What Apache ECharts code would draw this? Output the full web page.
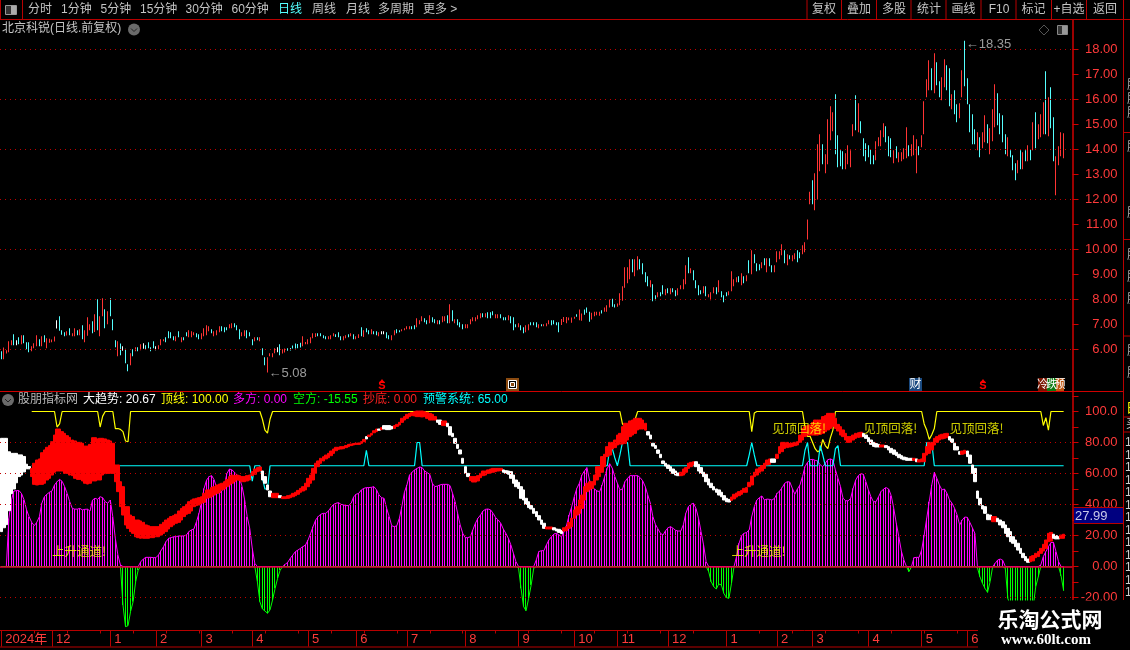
<!DOCTYPE html>
<html><head><meta charset="utf-8">
<script src="https://cdn.jsdelivr.net/npm/echarts@6/dist/echarts.min.js"></script>
<style>html,body{margin:0;padding:0;background:#000}#c{width:1130px;height:650px}</style></head>
<body><div id="c"></div>
<script>
const candleRows=[
[5.61,5.93,'c'],[5.61,6.08,'r'],[5.84,5.97,'r'],[5.89,6.33,'r'],[6.17,6.37,'r'],[6.17,6.61,'c'],[6.17,6.37,'w'],[6.21,6.49,'c'],[6.21,6.57,'r'],[6.25,6.57,'c'],
[6.01,6.29,'c'],[5.89,6.29,'c'],[5.93,6.13,'r'],[6.05,6.25,'r'],[6.13,6.57,'r'],[6.13,6.41,'c'],[6.13,6.53,'r'],[6.29,6.57,'c'],[6.05,6.45,'r'],[6.27,6.43,'r'],
[6.29,6.40,'r'],[6.32,6.52,'r'],[6.84,7.17,'w'],[6.75,7.33,'c'],[6.59,6.77,'c'],[6.53,6.69,'c'],[6.56,6.73,'r'],[6.57,6.85,'c'],[6.53,6.65,'r'],[6.53,6.85,'r'],
[6.57,6.77,'c'],[6.57,6.81,'r'],[6.41,6.97,'c'],[6.29,6.77,'r'],[6.55,7.29,'r'],[6.77,7.01,'r'],[6.65,7.13,'c'],[6.70,7.41,'r'],[6.77,8.01,'c'],[6.53,7.33,'r'],
[7.33,8.05,'r'],[6.85,7.61,'c'],[7.01,7.53,'r'],[7.33,8.05,'c'],[6.77,7.21,'c'],[6.09,6.37,'c'],[5.73,6.33,'r'],[5.77,6.24,'c'],[5.95,6.13,'w'],[5.45,6.03,'c'],
[5.13,5.41,'c'],[5.37,5.85,'r'],[5.73,6.01,'c'],[5.93,6.09,'r'],[5.93,6.09,'c'],[5.97,6.21,'r'],[6.03,6.25,'w'],[6.01,6.17,'c'],[6.05,6.29,'c'],[5.93,6.09,'c'],
[6.05,6.33,'c'],[5.97,6.13,'w'],[6.01,6.17,'r'],[6.17,6.41,'r'],[6.33,6.41,'r'],[6.29,6.49,'c'],[6.45,6.73,'c'],[6.45,6.69,'c'],[6.37,6.53,'c'],[6.33,6.53,'r'],
[6.49,6.73,'c'],[6.29,6.49,'r'],[6.37,6.49,'c'],[6.53,6.69,'c'],[6.49,6.77,'r'],[6.49,6.73,'r'],[6.57,6.69,'r'],[6.49,6.65,'c'],[6.41,6.61,'c'],[6.41,6.65,'r'],
[6.53,6.85,'r'],[6.57,6.97,'r'],[6.73,6.93,'r'],[6.65,6.81,'c'],[6.53,6.73,'r'],[6.57,6.77,'r'],[6.69,6.93,'r'],[6.73,6.93,'c'],[6.69,6.89,'c'],[6.77,6.89,'c'],
[6.85,7.01,'r'],[6.85,7.05,'r'],[6.89,7.05,'c'],[6.77,6.97,'c'],[6.41,6.81,'c'],[6.53,6.69,'r'],[6.53,6.77,'r'],[6.45,6.77,'c'],[6.53,6.69,'c'],[6.17,6.41,'c'],
[6.33,6.49,'r'],[6.37,6.49,'c'],[6.33,6.49,'r'],[5.77,6.05,'c'],[5.37,5.69,'c'],[5.08,5.69,'r'],[5.73,5.85,'r'],[5.69,5.85,'r'],[5.85,6.05,'r'],[5.89,6.09,'w'],
[5.77,6.21,'c'],[5.84,6.01,'r'],[5.88,6.04,'r'],[5.95,6.05,'c'],[5.96,6.06,'c'],[6.04,6.16,'c'],[6.04,6.24,'c'],[6.05,6.22,'c'],[6.08,6.27,'c'],
[6.13,6.53,'r'],[6.21,6.30,'r'],[6.21,6.41,'r'],[6.25,6.49,'r'],[6.45,6.65,'r'],[6.50,6.65,'r'],[6.53,6.65,'c'],[6.53,6.65,'c'],[6.45,6.57,'c'],[6.41,6.53,'c'],
[6.41,6.53,'r'],[6.41,6.57,'r'],[6.53,6.65,'r'],[6.50,6.61,'c'],[6.49,6.69,'c'],[6.37,6.53,'c'],[6.37,6.53,'r'],[6.45,6.57,'r'],[6.49,6.61,'c'],[6.53,6.65,'r'],
[6.41,6.61,'c'],[6.41,6.53,'r'],[6.46,6.61,'r'],[6.53,6.89,'c'],[6.50,6.77,'r'],[6.69,6.85,'c'],[6.61,6.77,'c'],[6.61,6.81,'r'],[6.61,6.73,'c'],[6.57,6.73,'c'],
[6.53,6.69,'r'],[6.61,6.73,'w'],[6.61,6.73,'w'],[6.45,6.69,'c'],[6.41,6.57,'c'],[6.37,6.57,'r'],[6.57,6.77,'r'],[6.65,6.81,'c'],[6.69,6.77,'c'],[6.73,6.81,'r'],
[6.77,6.85,'r'],[6.81,6.93,'r'],[6.81,6.93,'r'],[6.81,6.93,'c'],[6.81,6.97,'c'],[6.89,7.25,'r'],[7.01,7.17,'r'],[7.13,7.33,'r'],[7.09,7.25,'c'],[7.01,7.17,'c'],
[7.05,7.37,'r'],[7.09,7.29,'c'],[7.05,7.21,'c'],[7.01,7.17,'r'],[7.01,7.17,'c'],[7.09,7.33,'r'],[7.13,7.33,'r'],[7.05,7.37,'c'],[7.05,7.81,'r'],[7.13,7.57,'c'],
[7.05,7.21,'r'],[6.97,7.21,'c'],[6.89,7.09,'c'],[6.81,7.01,'c'],[6.85,7.01,'r'],[6.85,7.01,'r'],[7.01,7.21,'r'],[7.13,7.29,'r'],[7.13,7.29,'r'],[7.21,7.37,'r'],
[7.25,7.45,'r'],[7.29,7.45,'c'],[7.29,7.45,'r'],[7.25,7.49,'c'],[7.25,7.49,'c'],[7.37,7.53,'c'],[7.25,7.41,'r'],[7.25,7.41,'r'],[7.25,7.41,'c'],[7.17,7.29,'c'],
[7.17,7.29,'c'],[7.17,7.37,'r'],[7.05,7.33,'c'],[6.77,7.29,'c'],[6.89,7.01,'c'],[6.89,7.05,'r'],[6.77,6.97,'c'],[6.65,6.89,'c'],[6.69,6.97,'r'],[6.77,7.01,'r'],
[6.97,7.09,'c'],[6.97,7.09,'c'],[6.89,7.09,'c'],[6.85,7.01,'r'],[6.93,7.01,'c'],[6.93,7.01,'r'],[6.93,7.05,'r'],[7.01,7.17,'r'],[6.97,7.17,'c'],[7.01,7.17,'c'],
[6.97,7.09,'c'],[6.69,7.09,'c'],
[6.98,7.22,'r'],[7.10,7.30,'r'],[7.05,7.30,'r'],[7.17,7.28,'r'],[7.07,7.28,'r'],[7.23,7.31,'r'],[7.31,7.41,'c'],[7.17,7.60,'r'],[7.15,7.44,'r'],[7.39,7.60,'c'],
[7.47,7.68,'c'],[7.11,7.51,'c'],[7.20,7.47,'r'],[7.33,7.51,'r'],[7.37,7.51,'r'],[7.35,7.51,'r'],[7.44,7.57,'c'],[7.51,7.68,'r'],[7.51,7.77,'r'],[7.68,8.00,'r'],
[7.71,8.03,'c'],[7.68,7.81,'c'],[7.71,7.84,'r'],[7.77,8.25,'r'],[7.95,8.53,'r'],
[8.47,9.29,'r'],[8.65,9.29,'r'],[8.81,9.61,'r'],[9.09,9.61,'c'],[8.93,9.61,'r'],[9.17,9.73,'r'],[9.21,9.61,'c'],[9.01,9.45,'c'],[8.69,9.09,'c'],[8.53,8.93,'c'],
[8.49,8.77,'r'],[7.93,8.61,'c'],[7.97,8.17,'c'],[8.09,8.29,'r'],[8.13,8.29,'c'],[8.21,8.57,'c'],[8.17,8.41,'r'],[8.25,8.45,'c'],[8.21,8.45,'r'],[8.29,8.45,'c'],
[8.13,8.37,'c'],[8.17,8.45,'r'],[8.41,8.57,'r'],[8.41,8.81,'r'],[8.61,9.37,'r'],[9.05,9.69,'c'],[9.05,9.25,'r'],[8.77,9.17,'c'],[8.45,8.77,'c'],[8.17,8.57,'c'],
[8.21,8.37,'c'],[8.25,8.53,'r'],[8.13,8.53,'c'],[8.09,8.21,'r'],[7.97,8.29,'r'],[8.25,8.49,'r'],[8.21,8.49,'c'],[8.29,8.77,'r'],[8.09,8.33,'c'],[7.89,8.17,'c'],
[8.13,8.29,'c'],[8.17,8.33,'r'],[8.33,9.13,'r'],[8.53,8.81,'r'],[8.69,8.89,'r'],[8.69,8.93,'c'],[8.57,9.05,'r'],[8.65,8.93,'c'],[8.73,8.97,'r'],[9.05,9.57,'c'],
[9.01,9.97,'r'],[9.45,9.81,'c'],[9.13,9.45,'c'],[9.17,9.41,'c'],[9.25,9.49,'r'],[9.37,9.65,'c'],[9.09,9.65,'r'],[9.33,9.65,'c'],[9.09,9.37,'c'],[9.09,9.37,'r'],
[9.49,9.93,'r'],[9.61,9.93,'r'],[9.77,10.21,'r'],[9.45,9.97,'c'],[9.37,9.81,'r'],[9.61,9.77,'c'],[9.53,9.77,'r'],[9.61,9.85,'r'],[9.49,9.97,'c'],[9.65,9.89,'c'],
[9.81,10.17,'r'],[9.89,10.29,'r'],[10.40,11.20,'r'],
[11.81,12.31,'r'],[11.81,12.77,'c'],[11.57,13.05,'r'],[12.00,14.21,'r'],[13.13,14.61,'r'],[13.41,14.21,'c'],[13.05,13.81,'r'],[13.41,15.21,'r'],[14.37,15.73,'r'],[14.73,15.49,'r'],
[13.81,16.21,'c'],[13.29,14.57,'c'],[13.33,13.97,'c'],[13.21,13.93,'c'],[13.21,13.85,'r'],[13.41,14.17,'r'],[13.29,13.97,'r'],[14.53,15.01,'r'],[14.77,16.17,'c'],[14.69,15.85,'r'],
[14.65,15.13,'c'],[13.73,14.45,'c'],[13.53,14.25,'c'],[13.69,14.17,'c'],[13.41,14.01,'c'],[13.41,13.77,'c'],[13.57,14.33,'r'],[14.13,14.49,'r'],[14.13,14.77,'r'],[14.49,15.05,'r'],
[14.29,14.93,'c'],[13.73,14.53,'c'],[13.69,14.45,'c'],[13.45,13.97,'r'],[13.65,14.13,'c'],[13.49,13.89,'r'],[13.53,13.89,'r'],[13.61,14.05,'r'],[13.65,14.89,'r'],[13.73,14.17,'c'],
[13.73,14.21,'r'],[13.77,14.57,'r'],[13.05,14.41,'r'],[13.77,14.13,'c'],[14.09,14.57,'r'],[14.61,15.93,'r'],[16.09,16.81,'r'],[16.37,17.57,'r'],[16.37,17.25,'c'],[16.25,17.85,'r'],
[16.57,17.49,'c'],[16.09,16.73,'c'],[15.97,16.89,'r'],[16.49,17.61,'r'],[16.37,17.37,'c'],[15.73,17.25,'c'],[15.61,16.21,'r'],[15.41,16.37,'c'],[15.09,15.81,'c'],[15.25,15.85,'r'],
[16.09,17.17,'r'],[16.53,18.35,'c'],[15.81,16.85,'c'],[14.69,15.81,'c'],[14.21,15.41,'c'],[14.21,14.81,'c'],[13.97,14.69,'r'],[13.69,14.49,'c'],[14.05,14.69,'r'],[14.29,15.37,'r'],
[14.25,15.01,'c'],[13.81,14.85,'r'],[14.33,15.61,'r'],[14.89,16.61,'r'],[14.97,16.25,'c'],[14.61,15.45,'c'],[14.29,15.37,'c'],[13.81,14.61,'c'],[13.73,14.49,'r'],[13.69,13.97,'c'],
[13.17,13.77,'c'],[12.77,13.45,'c'],[13.05,13.57,'r'],[13.21,13.97,'c'],[13.21,13.89,'r'],[13.53,13.97,'c'],[13.53,14.17,'r'],[13.57,14.01,'c'],[13.97,15.09,'r'],[14.05,15.49,'c'],
[14.41,15.01,'r'],[14.49,15.41,'r'],[14.61,15.89,'r'],[14.61,17.13,'c'],[14.53,16.09,'r'],[14.85,16.49,'c'],[13.53,15.29,'c'],[12.17,13.73,'r'],[13.37,14.13,'r'],[13.73,14.69,'r'],[13.65,14.65,'r']
];
const histValues=[
0,0,0,31,43,48.7,49,49,47,43,36.5,32,28.5,26.3,28.5,32,40.8,45,46.6,47.9,48.7,52.6,54.7,56.2,55,51.5,47,41.8,37.5,37,37,37.5,36.5,36.9,37,35.8,
42.9,44,43.3,45,44.4,41.8,40.8,42.9,32,18,7.4,1,-24.8,-38.8,-38.2,-29,-22.7,-9.8,-2.3,3,4.8,5.9,5.9,5.9,5.7,5.7,7.4,10.2,12.8,16,18.2,18.6,19.2,19.2,19.7,19.7,19.7,20.3,22.5,23.6,24.2,28.9,34.3,41.8,50.4,55.8,58,58.6,55.8,50.4,47,48.7,52.6,60,62.9,62.3,60.8,59,56.9,51.5,42.9,32.1,24.6,11.7,2,-9.8,-22.7,-27.4,-28.7,-30.2,
-28,-21.6,-14.1,-7.6,-2.3,0,1.4,2.7,5.3,7.4,9.6,10.6,11.7,12.8,13.9,17.1,21.4,25.7,30,32.2,33.7,34.3,34.3,35.8,38,40,40.8,41.2,40.1,39.7,39.3,39.3,40.8,45,46.6,47.2,49.4,50.4,50.9,50.9,51.1,51.5,49.4,46.1,44.4,44,37.5,32.2,26.3,25.7,26.3,31.1,38.6,47.9,52.6,59,60.8,62.3,63.3,64.2,63.8,61.6,60.5,59.5,
53.7,51.5,51.9,52.6,53,53,53,52.2,47.2,41.8,34.3,26.8,21.4,18.6,18.6,19.2,23.6,27.9,31.1,33.2,35.8,36.9,37.1,36.5,34.3,31.5,30,27.9,24.2,21.4,18.2,13.9,8.5,3.1,-0.8,-14.1,-25.9,-28.5,-20.5,-11.9,-1.2,4.2,9.6,10.2,10.2,13.9,17.1,19.2,21,21.4,20.3,19.2,22.5,26.8,33.2,38.6,45,50.4,53.7,59,61.6,63.8,55.8,51.5,50,48.7,48.3,52.6,58,63.3,66.3,63.3,58,53.7,49.4,
50,54.7,56.9,58.6,58.6,58.6,58.6,57.3,55.2,51.5,46.1,40.8,32.2,27.2,24.2,21.4,20.3,23.1,25,25.7,24.6,23.3,22.9,22.9,26.8,34.3,38.6,40.1,40.8,37.5,31.1,22.5,13.9,3.1,-3.3,-9.8,-13,-14.5,-11.3,-11.9,-17.3,-20.1,-20.5,-10.9,-0.1,6.3,15,19.9,21.4,22,23.6,32.2,38.6,42.9,44.4,45.5,42.9,43.5,43.3,42.9,44,47.2,48.7,50.9,53.7,54.7,54.5,50.4,46.6,
50,52.6,58,64.4,67.2,68.9,69.1,68.5,68.1,65.5,64.4,66.6,68.9,69.4,68.7,62.3,56.9,51.5,44,42.5,42.3,44,50.4,55.8,58.6,59.9,59.5,54.7,49.4,45,41.8,41.8,45,48.3,50,50.9,50,45.7,37.5,27.9,19.2,10,4.2,-0.1,-3.3,-0.1,5.7,5.9,5.9,10.6,20.3,31.1,41.8,52.6,60.8,56.9,52.6,49.4,50,47.2,42.9,40.8,37.5,33.2,26.8,30,31.9,31.7,28.5,25,21.4,
-0.8,-6.6,-10.9,-14.1,-16.7,-9.8,-0.1,2,4.2,4.8,4,-1.2,-20.5,-26,-30,-33,-35,-36,-36,-34,-32,-30,-26,-13,-6.6,1,6.4,9.6,12.8,15.4,15.6,9.6,3.1,-6,-15.55
];
const bandRows=[
[22.5,82.7,'w'],[25,82.7,'w'],[27,82.7,'w'],[36,74,'w'],[47,73,'w'],[50,73,'w'],[54,73,'w'],[58,72,'w'],[59,72,'w'],[61,71,'w'],[63,66,'w'],[63,64.5,'w'],
[58,63.3,'r'],[53,66.6,'r'],[52.6,68.7,'r'],[53,69.4,'r'],[53,73.4,'r'],[53.7,75.2,'r'],[55.8,76.9,'r'],[56.9,78,'r'],[59,80.5,'r'],[60.8,84.8,'r'],[61.6,88.7,'r'],[61.6,88.7,'r'],[61.6,87,'r'],[60.1,85.9,'r'],[60.1,84.4,'r'],[59,83.3,'r'],[58.6,81.6,'r'],[56.9,81,'r'],[56.2,80.1,'r'],[56.2,80.1,'r'],[55.2,79.5,'r'],[53.7,77.7,'r'],[53.2,77.7,'r'],[53.7,78.8,'r'],
[55.2,83.1,'r'],[55.2,83.1,'r'],[55.8,82.3,'r'],[55.8,82.7,'r'],[59,82.7,'r'],[59.9,82.3,'r'],[60.1,81.6,'r'],[60.1,81,'r'],[60.1,79.5,'r'],[54.7,65.5,'r'],[48.3,65.5,'r'],[38.6,54.7,'r'],[33.2,51.5,'r'],[26.8,38.6,'r'],[24.6,38.6,'r'],[22.5,33.2,'r'],[21.4,32.2,'r'],[19.2,30,'r'],[18.6,30,'r'],[18.2,29.4,'r'],[18.2,28.5,'r'],[18.2,26.8,'r'],[18.2,26.3,'r'],[18.6,25.7,'r'],[18.6,25.7,'r'],[19.2,25.7,'r'],[19.2,25.7,'r'],[20.3,27.2,'r'],[21.4,28.5,'r'],[22.5,30,'r'],[24.2,31.1,'r'],[25.7,32.2,'r'],[26.8,32.8,'r'],[27.9,33.7,'r'],[28.5,35.8,'r'],[30,37.5,'r'],[32.2,38.6,'r'],[33.7,40.1,'r'],[34.3,41.8,'r'],[35.8,42.9,'r'],[38.6,43.6,'r'],[39.3,44,'r'],[39.7,44.4,'r'],[40.8,45,'r'],[41.4,47.2,'r'],[44,49.4,'r'],[44.4,49.4,'r'],[45,50.9,'r'],[46.1,51.5,'r'],[47.2,52.6,'r'],[47.9,53.2,'r'],[49.4,53.7,'r'],[50,54.7,'r'],[51.5,56.2,'r'],[52.6,58,'r'],[53.7,59,'r'],[54.7,58.6,'r'],[55.8,59,'r'],[55.6,58.6,'r'],[54.7,58,'r'],[54.7,58,'r'],[55.2,58.6,'r'],[55.8,59,'r'],[58.6,61.2,'r'],[59.5,62.9,'r'],[61.2,63.8,'r'],[61.6,64.2,'r'],[55.8,61.6,'w'],[53.7,58,'w'],[49.4,52.6,'w'],
[45,48.7,'w'],[44.4,47.2,'r'],[44.4,47.2,'r'],[44.4,47.2,'r'],[44.4,45.7,'w'],[43.8,45,'r'],[43.8,45,'r'],[44,45.7,'r'],[44.4,46.1,'r'],[45,47.2,'r'],[45.7,47.9,'r'],[46.6,49.1,'r'],[47.9,50.4,'r'],[48.7,51.5,'r'],[49.4,53.7,'r'],[51.5,56.9,'r'],[53.7,59,'r'],[55.8,63.3,'r'],[60.1,66.6,'r'],[64.4,68.1,'r'],[66.6,69.8,'r'],[68.1,70.8,'r'],[69.4,71.9,'r'],[70.2,73,'r'],[71.5,74.5,'r'],[73,75.8,'r'],[74.7,76.9,'r'],[75.6,76.9,'r'],[75.8,77.3,'r'],[76,77.3,'r'],[76.7,78,'r'],[77.3,78.8,'r'],[78,79,'r'],[78.4,79.3,'r'],[78.8,79.5,'r'],[78.8,79.7,'r'],[79.5,80.5,'r'],[80.5,82,'r'],[82.3,83.8,'w'],[83.8,84.8,'r'],[84.8,85.9,'r'],[86.3,87.6,'r'],[87,88.7,'r'],[87.9,88.7,'w'],[88.3,89.6,'r'],[88.7,90.9,'w'],[88.3,90.9,'w'],[88.3,90.9,'w'],[88.7,90.4,'w'],[89.1,90.9,'r'],[90.4,91.7,'r'],[91.3,93,'r'],
[93,95.6,'r'],[94.5,96.7,'r'],[95.6,98.2,'r'],[96.7,98.8,'r'],[97.3,99.3,'r'],[97.1,99.9,'r'],[96.7,100.3,'r'],[96.7,100.3,'r'],[96.5,100.3,'r'],[96.7,99.9,'r'],[95.6,99.5,'r'],[94.5,98.8,'r'],[94.5,98.2,'r'],[94.5,96.7,'r'],[93,94.5,'w'],[91.7,94.5,'w'],[90.9,93.9,'r'],
[90.9,93.9,'r'],[90.2,92.4,'w'],[84.8,90.2,'w'],[83.8,85.9,'w'],[79.5,82.7,'w'],[76.2,78.8,'w'],[72.6,75.2,'w'],[66.6,69.8,'w'],[60.1,64.4,'w'],[58,60.1,'w'],[55.4,58,'r'],[54.5,58,'r'],[54.5,58,'r'],[55.2,58.6,'r'],[57.3,60.1,'r'],[58.6,61.6,'r'],[59,61.6,'r'],[60.1,62.3,'r'],[60.3,62.9,'r'],[60.8,63.3,'r'],[61.2,63.3,'r'],[61.6,63.3,'r'],[61.8,63.3,'r'],[60.8,62.3,'w'],[60.1,61.8,'w'],[59.5,61.6,'w'],[56.9,61.2,'w'],[53.7,59,'w'],[51.5,55.8,'w'],[50.4,54.3,'w'],[44,51.5,'w'],[42.9,49.4,'w'],[40.1,44,'w'],[38,41.8,'w'],[37.1,39.3,'w'],[34.3,37.5,'w'],[32.2,35.4,'w'],[30,32.8,'w'],[27.2,30,'w'],[24.6,27.9,'w'],[24.2,25.5,'r'],[24.2,25.5,'r'],[24.2,25.5,'r'],[23.6,25,'w'],[22.9,24.2,'w'],[22,24,'w'],[21.2,23.3,'w'],[22.9,25,'r'],[23.1,25.7,'r'],[24.6,28.5,'r'],[25.7,31.1,'r'],[31.1,36.5,'r'],[33.2,38.6,'r'],[34.3,42.9,'r'],[37.5,46.1,'r'],[42.9,51.5,'r'],[48.3,53.7,'r'],[49.4,54.7,'r'],[50.4,54.7,'r'],[52.6,59,'r'],[55.8,64.4,'r'],[58,64.4,'r'],[60.8,70.9,'r'],[64.4,72.4,'r'],[70.9,77.3,'r'],[71.9,80.1,'r'],[75.8,80.1,'r'],[76.7,81.6,'r'],[78.4,84.8,'r'],[79,85.9,'r'],
[79,90.2,'r'],[79.5,92.4,'r'],[81.6,92.4,'r'],[83.8,93.9,'r'],[84.8,94.5,'r'],[85.9,95.6,'r'],[88.1,95.6,'r'],[88.7,95.6,'r'],[88.7,94.5,'r'],[88,92.4,'r'],[84.8,87,'w'],[82.3,84.8,'w'],[77.7,79.5,'w'],[76.2,78,'w'],[73,75.2,'w'],[70.2,72.4,'w'],[66.4,68.1,'w'],[64.8,66.6,'w'],[63.3,65.5,'w'],[61.6,64.4,'w'],[60.1,62.9,'w'],[59,61.6,'w'],[58.6,60.3,'w'],[58.6,60.8,'r'],[59,62.9,'r'],[60.8,63.8,'r'],[63.3,66.6,'r'],[64.4,67.2,'r'],[65.5,67.6,'r'],[64.4,67.6,'w'],[61.6,65.9,'w'],[60.1,63.8,'w'],[58,60.8,'w'],[54.7,59.5,'w'],[52.6,56.5,'w'],[50.9,53.7,'w'],[49.4,51.5,'w'],[47.9,50,'w'],[46.1,49.4,'w'],[45,47.9,'w'],[42.9,45.7,'w'],[41.8,44,'w'],[41.6,43.3,'w'],[42.7,44.8,'r'],[43.6,46.6,'r'],[44.8,47.4,'r'],[45.7,48.3,'r'],[46.6,49.1,'r'],[47.9,50.4,'r'],[47.9,50.9,'r'],[51.5,54.3,'r'],[52.6,58.4,'r'],[58,60.8,'r'],[59,62.9,'r'],[60.8,63.8,'r'],[61.6,65.1,'r'],[63.3,66.6,'r'],[65.5,68.7,'r'],[65.9,69.4,'r'],[67.2,69.4,'w'],[67.2,69.4,'w'],[69.8,72.4,'r'],[73,77.3,'r'],[74.1,80.1,'r'],[76.2,80.1,'r'],[76.7,80.1,'r'],[77.1,79.3,'r'],[77.5,79.7,'r'],[78,80.1,'r'],[78.4,80.5,'r'],
[80.1,84.8,'r'],[81.6,89.1,'r'],[83.8,90.2,'r'],[84.8,90.9,'r'],[84.8,91.3,'r'],[84.8,93,'r'],[84.8,94.5,'r'],[84.8,94.5,'r'],[85.3,94.5,'r'],[85.9,96.7,'r'],[87,97.3,'r'],[88.1,98.8,'r'],[89.1,98.8,'r'],[90.2,98.8,'r'],[89.1,95.6,'r'],[87.4,91.7,'r'],[84.8,90.2,'r'],[83.8,88.1,'r'],[81.6,85.9,'r'],[80.1,83.8,'r'],[80.1,83.8,'r'],[81.6,84.8,'r'],[82.7,85.9,'r'],[83.3,86.3,'r'],[83.6,86.6,'r'],[83.8,85.9,'w'],[82.7,84.8,'w'],[80.5,83.1,'w'],[78.8,81.6,'w'],[77.5,80.1,'w'],[77.1,79.3,'w'],[77.1,78.8,'w'],[77.1,78.4,'r'],[77.1,78.4,'r'],[76.7,78,'w'],[75.2,77.3,'w'],[73.4,76.2,'w'],[72.4,75.2,'w'],[71.5,73.7,'w'],[70.2,72.4,'w'],[69.4,71.5,'w'],[68.9,70.6,'w'],[68.5,70.2,'w'],[68.5,69.8,'w'],[68.5,69.8,'w'],[68.5,69.8,'r'],[67.6,69.4,'w'],[67.4,68.9,'r'],[67.6,69.4,'r'],[67.6,73,'r'],[71.9,77.3,'r'],[73,80.1,'r'],[75.2,80.1,'r'],[78.4,82.7,'r'],[80.1,83.8,'r'],[81.6,84.8,'r'],[82.3,85.3,'r'],[82.7,85.7,'r'],[83.1,85.9,'r'],[81.6,83.8,'w'],[80.1,82.3,'w'],[75.2,79.5,'w'],[75.2,77.3,'w'],[72.4,74.1,'w'],[72.4,74.5,'r'],[72.8,75,'r'],[70.9,74.5,'w'],[66.6,71.9,'w'],[60.1,65.5,'w'],[54.7,63.3,'w'],
[44,48.7,'w'],[39.7,44,'w'],[37.1,39.3,'w'],[34.3,38.6,'w'],[30.2,33.7,'w'],[30.2,33.2,'w'],[28.9,32.2,'r'],[28.9,32.2,'r'],[28.9,31.1,'w'],[26.8,30,'w'],[25,28.9,'w'],[21.4,26.8,'w'],[19.2,24.6,'w'],[16,22.5,'w'],[15,19.2,'w'],[12.8,17.1,'w'],[10.6,15,'w'],[8.5,11.7,'w'],[5.7,8.5,'w'],[3.8,6.4,'w'],[2.7,4.8,'w'],[3.1,6.4,'r'],[3.6,7,'r'],[5.7,8.5,'r'],[6.4,9.6,'r'],[8.5,11.7,'r'],[10,14.3,'r'],[11.7,17.1,'r'],[16,21.4,'r'],[16.4,22,'r'],[18.2,20.8,'w'],[17.8,19.9,'w'],[17.8,19.2,'w'],[18.2,20.3,'r'],[18.2,20.8,'r']
];
const topLineStart=12, alertLineStart=12, lastSlot=419;
const topLineDips={22:90,23:92,39:90,40:97,45:89,46:89,47:88.5,48:87,49:81,50:80.5,103:95,104:88,105:86,106:95,245:92,246:90,247:89,248:89,249:90,250:95,296:87,297:99,317:90,318:84,319:84,320:80,321:76,322:74,323:75,324:82,325:78,326:76,327:83,328:88,364:92,365:88,366:82,367:85,368:89,411:91,412:96,413:88};
const alertLineMoves={99:55,103:57,104:50,105:50,144:75,164:80,165:80,240:76,241:76,242:70,244:72,245:80,246:80,247:80,295:72,296:80,297:72,317:75,318:80,323:78,324:72,329:76,330:78,365:80,366:80,367:80};
const monthTicks=[[0,'2024年'],[20,'12'],[43,'1'],[61,'2'],[79,'3'],[99,'4'],[121,'5'],[140,'6'],[160,'7'],[183,'8'],[204,'9'],[226,'10'],[243,'11'],[263,'12'],[286,'1'],[306,'2'],[320,'3'],[342,'4'],[363,'5'],[381,'6']];
const priceGuides=[6,8,10,12,14,16,18];
const panelGuides=[-20,20,40,60,80];
const rawNotes=[[20,10,'上升通道!'],[288,10,'上升通道!'],[304,89.4,'见顶回落!'],[340,89.4,'见顶回落!'],[374,89.4,'见顶回落!']];
const priceExtremes=[[105,5.08,'←5.08'],[380,18.35,'←18.35']];

const FONT='"Liberation Sans","Noto Sans CJK SC",sans-serif';
const SLOTS=423;
const cats=Array.from({length:SLOTS},()=>'');
monthTicks.forEach(m=>cats[m[0]]=m[1]);
const isMajor=(i)=>monthTicks.some(m=>m[0]===i);
const CLR={r:'#ff3434',c:'#55ffff',w:'#ffffff'};
const BND={r:'#ff0000',w:'#ffffff'};
const solid=(c)=>({color:c,color0:c,borderColor:c,borderColor0:c});
const candleData=candleRows.map(r=>{const up=r[2]!=='c';
  return {value:up?[r[0],r[1],r[0],r[1]]:[r[1],r[0],r[0],r[1]],itemStyle:solid(CLR[r[2]])};});
const bandData=bandRows.map(r=>({value:[r[0],r[1],r[0],r[1]],itemStyle:solid(BND[r[2]])}));
const histSticks=histValues.map(v=>({value:[0,v,Math.min(0,v),Math.max(0,v)],itemStyle:solid(v>=0?'#ff00ff':'#00ff00')}));
const yellowLine=[],cyanLine=[];
for(let i=0;i<=lastSlot;i++){
  yellowLine.push(i<topLineStart?null:(topLineDips[i]!==undefined?topLineDips[i]:100));
  cyanLine.push(i<alertLineStart?null:(alertLineMoves[i]!==undefined?alertLineMoves[i]:65));
}
const histUp=histValues.map(v=>v>0?v:0), histDown=histValues.map(v=>v<0?v:0);

const LINE='#b80000';
const G=[];
const R=(x,y,w,h,fill,stroke)=>G.push({type:'rect',shape:{x,y,width:w,height:h},style:{fill:fill||'transparent',stroke:stroke||null,lineWidth:1},z:100,silent:true});
const L=(x1,y1,x2,y2,c,w)=>G.push({type:'line',shape:{x1,y1,x2,y2},style:{stroke:c||LINE,lineWidth:w||1},z:100,silent:true});
const T=(x,y,text,fill,size,align,font,weight,extra)=>G.push({type:'text',x,y,style:Object.assign({text,fill:fill||'#c4c4c4',font:(weight||'normal')+' '+(size||12)+'px '+(font||FONT),textAlign:align||'left',textVerticalAlign:'middle'},extra||{}),z:101,silent:true});

// toolbar
L(0,19.5,1130,19.5);
R(0.5,-1,22,20.5,null,LINE);
R(5.5,5.5,11,9,'#333','#999');R(11,6,5,8,'#aaa');
[['分时',28],['1分钟',61],['5分钟',100.5],['15分钟',140],['30分钟',185.5],['60分钟',231.5],['周线',312],['月线',346],['多周期',378],['更多 >',423]].forEach(a=>T(a[1],10,a[0]));
T(278,10,'日线','#55ffff');
[807,841.5,876.5,911,946,981,1016,1051.5,1086.5,1123.5].forEach(x=>L(x,0,x,19.5));
[['复权',824],['叠加',859],['多股',894],['统计',929],['画线',963.5],['F10',999],['标记',1033.5],['+自选',1069],['返回',1105]].forEach(a=>T(a[1],10,a[0],'#c4c4c4',12,'center'));
T(2,29,'北京科锐(日线.前复权)');
const chev=(cx,cy)=>{G.push({type:'circle',shape:{cx,cy,r:6},style:{fill:'#6a6a6a'},z:100,silent:true});
 G.push({type:'polyline',shape:{points:[[cx-3,cy-1],[cx,cy+2],[cx+3,cy-1]]},style:{stroke:'#222',fill:null,lineWidth:1},z:101,silent:true});};
chev(134,29.5);chev(8,400);
G.push({type:'polygon',shape:{points:[[1044,25],[1049,30],[1044,35],[1039,30]]},style:{fill:null,stroke:'#555'},z:100,silent:true});
R(1057.5,25.5,10,9,'#333','#888');R(1062,26,5,8,'#999');
// frame lines
L(0,391.5,1123,391.5,'#d00000');
L(1073,20,1073,600,'#d00000',1.5);
L(1123.5,20,1123.5,600,LINE);
R(1074,507.5,49,16,'#000080');L(1074,507.5,1123,507.5,LINE);L(1074,523.5,1123,523.5,LINE);
T(1075,516,'27.99','#c8c8e8',13);
// event icons
const S=(x)=>{G.push({type:'polygon',shape:{points:[[x-3,383],[x,379],[x+3,383]]},style:{fill:'#ff0000'},z:101,silent:true});T(x,385.5,'S','#ff0000',11,'center',null,'bold');};
S(382);S(983);
R(506,378,13,13,'#8a4a10');R(508.5,380.5,8,8,'#000','#fff');R(510.5,382.5,4,4,'#8a4a10','#fff');
R(909,378,13,13,'#1a4a80');T(915.5,384.5,'财','#ffffff',12,'center');
R(1038,378,9,13,'#7a1500');R(1047,378,9,13,'#0a7a10');R(1056,378,8,13,'#c05510');
T(1042.5,384.5,'冷','#ffffff',11,'center');T(1051.5,384.5,'跌','#ffffff',11,'center');T(1060,384.5,'预','#ffffff',11,'center');
// indicator legend
[['股朋指标网',18,'#b8b8b8'],['大趋势: 20.67',83,'#ffffff'],['顶线: 100.00',161,'#ffff00'],['多方: 0.00',233,'#ff00ff'],['空方: -15.55',293,'#00ff00'],['抄底: 0.00',363,'#ff2020'],['预警系统: 65.00',423,'#00ffff']].forEach(a=>T(a[1],400,a[0],a[2]));
// side column (cut off by window edge)
T(1126,408,'日','#ffff00',13);
L(1124,417,1130,417,LINE);L(1124,432,1130,432,LINE);T(1126,425,'买','#c4c4c4',12);
[443,456,468,481,493,506,518,531,543,556,568,581,593].forEach(y=>T(1125,y,'1','#d0d0d0',12));
L(1124,132.5,1130,132.5,LINE);L(1124,239.5,1130,239.5,LINE);L(1124,336,1130,336,LINE);
[86,100,114,148,214,256,278,300,352,374].forEach(y=>T(1127,y,'股','#b0b0b0',12));
// watermark block
R(978,600.5,152,50,'#000');
T(1050,619,'乐淘公式网','#ffffff',21,'center','"Noto Sans CJK SC"','bold',{shadowColor:'#5a78c8',shadowBlur:0,shadowOffsetX:1,shadowOffsetY:1});
T(1046,640.5,'www.60lt.com','#ffffff',15,'center','"Liberation Serif"','bold',{shadowColor:'#5a78c8',shadowBlur:0,shadowOffsetX:1,shadowOffsetY:1});
L(0,647,978,647,LINE);

const axisTextRed='#ff3a3a';
const option={
 backgroundColor:'#000',animation:false,
 grid:[{left:0,top:24.5,width:1072.5,height:350,containLabel:false,show:false},
       {left:0,top:396,width:1072.5,height:232.5,containLabel:false,show:false}],
 xAxis:[
  {type:'category',gridIndex:0,data:cats,show:false,boundaryGap:true},
  {type:'category',gridIndex:1,data:cats,boundaryGap:true,position:'bottom',offset:2,
   axisLine:{show:true,onZero:false,lineStyle:{color:LINE}},
   axisTick:{show:true,alignWithLabel:true,length:16,interval:(i)=>isMajor(i),lineStyle:{color:LINE}},
   axisLabel:{show:true,interval:(i)=>isMajor(i),color:axisTextRed,fontFamily:FONT,fontSize:13,align:'left',margin:2,padding:[0,0,0,4],
     formatter:(v)=>v},splitLine:{show:false}},
  {type:'category',gridIndex:1,data:cats,boundaryGap:true,position:'bottom',offset:2,
   axisLine:{show:false,onZero:false},axisLabel:{show:false},
   axisTick:{show:true,alignWithLabel:true,length:3,interval:12,lineStyle:{color:LINE}}}
 ],
 yAxis:[
  {type:'value',gridIndex:0,position:'right',min:5,max:19,interval:1,scale:true,
   axisLine:{show:false},axisTick:{show:true,length:6,lineStyle:{color:'#d00000'}},splitLine:{show:false},
   axisLabel:{showMinLabel:false,showMaxLabel:false,color:axisTextRed,fontFamily:FONT,fontSize:13,margin:45,align:'right',padding:[3,0,0,0],formatter:(v)=>v.toFixed(2)}},
  {type:'value',gridIndex:1,position:'right',min:-40,max:110,interval:10,
   axisLine:{show:false},axisTick:{show:true,length:6,lineStyle:{color:'#d00000'}},splitLine:{show:false},
   axisLabel:{color:axisTextRed,fontFamily:FONT,fontSize:13,margin:45,align:'right',padding:[3,0,0,0],
     formatter:(v)=>v===100?'100.0':(v%20===0&&v<100&&v>-40?v.toFixed(2):'')}}
 ],
 series:[
  {type:'candlestick',name:'K线',xAxisIndex:0,yAxisIndex:0,data:candleData,barWidth:1,itemStyle:{borderWidth:1},z:3,
   markLine:{silent:true,symbol:'none',animation:false,label:{show:false},
     lineStyle:{color:'#c00000',type:[1,4],width:1},data:priceGuides.map(v=>({yAxis:v}))}},
  {type:'scatter',name:'极值',xAxisIndex:0,yAxisIndex:0,symbolSize:0,silent:true,z:4,
   data:priceExtremes.map(p=>({value:[p[0],p[1]],label:{show:true,position:'right',distance:1,formatter:p[2],color:'#c0c0c0',fontFamily:FONT,fontSize:13,offset:[0,p[1]>10?4:1]}}))},
  {type:'candlestick',name:'多空柱',xAxisIndex:1,yAxisIndex:1,data:histSticks,barWidth:1,silent:true,itemStyle:{borderWidth:1},z:2},
  {type:'line',name:'多方',xAxisIndex:1,yAxisIndex:1,data:histUp,showSymbol:false,silent:true,lineStyle:{color:'#ff00ff',width:1},itemStyle:{color:'#ff00ff'},z:3},
  {type:'line',name:'空方',xAxisIndex:1,yAxisIndex:1,data:histDown,showSymbol:false,silent:true,lineStyle:{color:'#00ff00',width:1},itemStyle:{color:'#00ff00'},z:3},
  {type:'line',name:'顶线',xAxisIndex:1,yAxisIndex:1,data:yellowLine,showSymbol:false,silent:true,lineStyle:{color:'#ffff00',width:1.2},itemStyle:{color:'#ffff00'},z:4},
  {type:'line',name:'预警系统',xAxisIndex:1,yAxisIndex:1,data:cyanLine,showSymbol:false,silent:true,lineStyle:{color:'#00ffff',width:1.2},itemStyle:{color:'#00ffff'},z:4},
  {type:'candlestick',name:'大趋势',xAxisIndex:1,yAxisIndex:1,data:bandData,barWidth:3,itemStyle:{borderWidth:1},z:5,
   markLine:{silent:true,symbol:'none',animation:false,label:{show:false},z:6,
     data:panelGuides.map(v=>({yAxis:v,lineStyle:{color:'#c00000',type:[1,4],width:1}})).concat([{yAxis:0,lineStyle:{color:'#e00030',type:'solid',width:1.5}}])}},
  {type:'scatter',name:'提示',xAxisIndex:1,yAxisIndex:1,symbolSize:0,silent:true,z:7,
   data:rawNotes.map(n=>({value:[n[0],n[1]],label:{show:true,position:'right',distance:0,formatter:n[2],color:'#ffff00',fontFamily:'"Noto Sans CJK SC"',fontSize:12.5}}))}
 ],
 graphic:{elements:G}
};
const chart=echarts.init(document.getElementById('c'),null,{renderer:'canvas',width:1130,height:650,devicePixelRatio:1});
chart.setOption(option);
</script></body></html>
